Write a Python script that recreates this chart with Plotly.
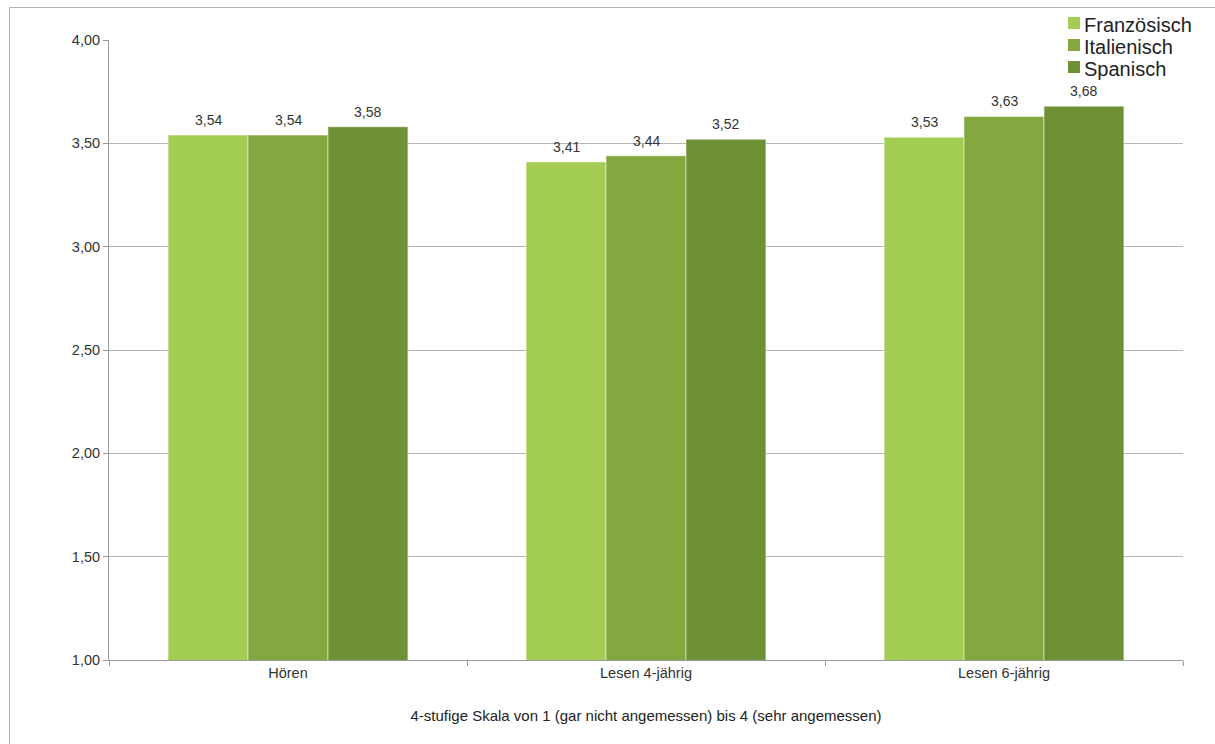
import plotly.graph_objects as go

categories = ["Hören", "Lesen 4-jährig", "Lesen 6-jährig"]
series_names = ["Französisch", "Italienisch", "Spanisch"]
franzoesisch = [3.54, 3.41, 3.53]
italienisch = [3.54, 3.44, 3.63]
spanisch = [3.58, 3.52, 3.68]
y_ticks = [1.0, 1.5, 2.0, 2.5, 3.0, 3.5, 4.0]
x_title = "4-stufige Skala von 1 (gar nicht angemessen) bis 4 (sehr angemessen)"

colors = ["#a2cd52", "#84a73f", "#6e9135"]
W, H = 1215, 744
L, T, B = 109, 40, 84
PLOT_RIGHT = 1183
FONT = "Liberation Sans, Arial, sans-serif"
BARGAP = 0.33

pw, ph = W - L, H - T - B
def px(x):
    return (x - L) / pw
def py(y):
    return (H - B - y) / ph

all_series = [franzoesisch, italienisch, spanisch]

fig = go.Figure()
for name, vals, col in zip(series_names, all_series, colors):
    fig.add_trace(go.Bar(
        name=name, x=categories, y=vals,
        marker=dict(color=col, line=dict(color="rgba(255,255,255,0.5)", width=1)),
        showlegend=False,
    ))

# value labels above each bar
cat_px = (PLOT_RIGHT - L) / len(categories)
bar_px = cat_px * (1 - BARGAP) / len(all_series)
for i, vals in enumerate(all_series):
    off = (i - (len(all_series) - 1) / 2) * bar_px
    for c, v in zip(categories, vals):
        fig.add_annotation(
            x=c, y=v, xref="x", yref="y", xshift=off, yshift=15,
            text=f"{v:.2f}".replace(".", ","), showarrow=False,
            yanchor="middle", font=dict(size=14, color="#333333", family=FONT),
        )

# legend: coloured squares with labels at top right
leg_x, leg_y0, leg_dy = 1068, 25, 22
for k, (name, col) in enumerate(zip(series_names, colors)):
    yc = leg_y0 + k * leg_dy
    fig.add_shape(type="rect", xref="paper", yref="paper",
                  x0=px(leg_x), x1=px(leg_x + 12), y0=py(yc - 8), y1=py(yc + 4),
                  line=dict(width=0), fillcolor=col)
    fig.add_annotation(x=px(leg_x + 14), y=py(yc), xref="paper", yref="paper",
                       text=name, showarrow=False, xanchor="left", yanchor="middle",
                       font=dict(size=20, color="#222222", family=FONT))

# chart frame (left and top edges visible)
fig.add_shape(type="rect", xref="paper", yref="paper",
              x0=px(9.5), x1=px(1240), y0=py(7.5), y1=py(770),
              line=dict(color="#b0b0b0", width=1), fillcolor="rgba(0,0,0,0)",
              layer="below")

fig.update_layout(
    width=W, height=H,
    margin=dict(l=L, r=0, t=T, b=B),
    paper_bgcolor="white", plot_bgcolor="white",
    separators=",.",
    barmode="group", bargap=BARGAP, bargroupgap=0,
    font=dict(family=FONT, color="#333333", size=14),
    showlegend=False,
    xaxis=dict(
        domain=[0, px(PLOT_RIGHT)],
        showline=True, linecolor="#999999", linewidth=1,
        ticks="outside", ticklen=5, tickcolor="#999999",
        tickson="boundaries",
        tickfont=dict(size=14.5, color="#333333"),
        title=dict(text=x_title, font=dict(size=15, color="#222222"), standoff=30),
    ),
    yaxis=dict(
        range=[1, 4], tickvals=y_ticks, tickformat=".2f",
        showline=True, linecolor="#999999", linewidth=1,
        ticks="outside", ticklen=5, tickcolor="#999999",
        gridcolor="#b5b5b5", gridwidth=1,
        tickfont=dict(size=14.5, color="#333333"),
        zeroline=False,
    ),
)

fig.write_html("out.html")
